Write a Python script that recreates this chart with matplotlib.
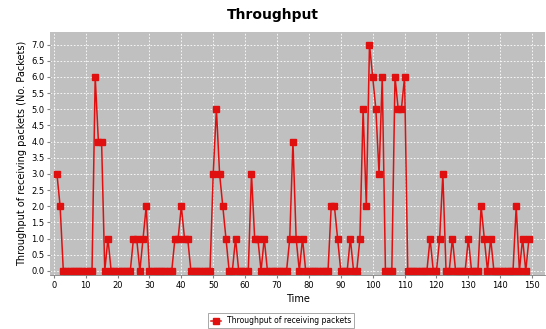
import numpy as np
import matplotlib
matplotlib.use("Agg")
import matplotlib.pyplot as plt

# throughput per time step
times = list(range(1, 150))
zeros = lambda n: [0] * n
throughput = ([3, 2] + zeros(10) + [6, 4, 4, 0, 1] + zeros(7) + [1, 1, 0, 1, 2]
              + zeros(8) + [1, 1, 2, 1, 1] + zeros(7) + [3, 5, 3, 2, 1, 0, 0, 1]
              + zeros(4) + [3, 1, 1, 0, 1] + zeros(7) + [1, 4, 1, 0, 1]
              + zeros(8) + [2, 2, 1, 0, 0, 0, 1, 0, 0, 1, 5, 2, 7, 6, 5, 3, 6]
              + zeros(3) + [6, 5, 5, 6] + zeros(7) + [1, 0, 0, 1, 3, 0, 0, 1]
              + zeros(4) + [1, 0, 0, 0, 2, 1, 0, 1] + zeros(7) + [2, 0, 1, 0, 1])

xticks = list(range(0, 160, 10))
yticks = np.arange(0, 7.5, 0.5)

fig = plt.figure(figsize=(5.46, 3.29), dpi=100)
ax = fig.add_axes([0.092, 0.164, 0.906, 0.738])
ax.set_facecolor("#c0c0c0")

ax.plot(times, throughput, color="#e01010", lw=1.1, marker="s", markersize=4,
        markerfacecolor="#e01010", markeredgecolor="#e01010",
        label="Throughput of receiving packets")

ax.set_xlim(-1.1, 154)
ax.set_ylim(-0.13, 7.38)
ax.set_xticks(xticks)
ax.set_yticks(yticks)
ax.set_yticklabels(["%.1f" % v for v in yticks])
ax.tick_params(labelsize=6, length=2, color="#808080", pad=2)
ax.grid(True, color="white", linestyle=(0, (2, 2)), linewidth=0.6)
ax.set_axisbelow(True)
for s in ax.spines.values():
    s.set_visible(False)
ax.spines["bottom"].set_visible(True)
ax.spines["bottom"].set_color("#808080")
ax.spines["bottom"].set_linewidth(0.6)

ax.set_xlabel("Time", fontsize=7, labelpad=3)
ax.set_ylabel("Throughput of receiving packets (No. Packets)", fontsize=7, labelpad=3)
fig.text(0.5, 0.955, "Throughput", ha="center", va="center", fontsize=10, fontweight="bold")

leg = fig.legend(loc="lower center", bbox_to_anchor=(0.515, -0.01), fontsize=5.5,
                 frameon=True, fancybox=False, edgecolor="#808080",
                 handlelength=1.2, borderpad=0.4)
leg.get_frame().set_linewidth(0.6)

fig.savefig("out.png", dpi=100)
